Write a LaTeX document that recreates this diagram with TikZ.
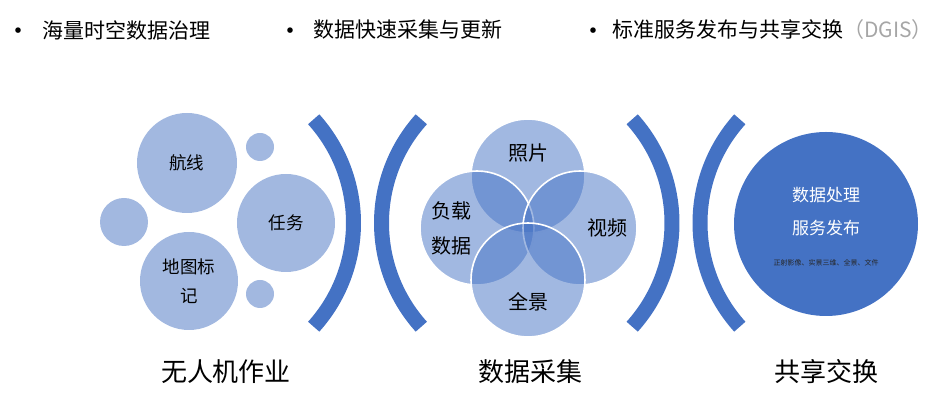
\documentclass[tikz,border=0pt]{standalone}
\usepackage{fontspec}
\setmainfont{Noto Sans CJK SC}
\usepackage{xcolor}
\usepackage{tikz}
\definecolor{pmBlue}{HTML}{4472C4}
\definecolor{pmLight}{HTML}{A2B8E0}
\definecolor{pmGray}{HTML}{A6A6A6}
\definecolor{pmInk}{HTML}{262626}
\tikzset{
  bubble/.style={
    circle, fill=pmLight,
    inner sep=0pt, minimum size=#1,
    align=center,
    font=\fontsize{8.75}{14.5}\selectfont
  },
  petal/.style={
    circle, fill=pmBlue, fill opacity=0.5,
    draw=white, draw opacity=1, line width=0.8pt,
    inner sep=0pt, minimum size=57pt
  },
  petaltext/.style={align=center, font=\fontsize{10}{17.5}\selectfont},
  hub/.style={circle, fill=pmBlue, inner sep=0pt, minimum size=92pt},
  hubtext/.style={text=white, font=\fontsize{8.5}{10}\selectfont},
  bracket/.style={pmBlue, line width=7.5pt},
  topitem/.style={anchor=west, inner sep=0pt, font=\fontsize{10.5}{12}\selectfont},
  dotmark/.style={inner sep=0pt, font=\fontsize{13}{14}\selectfont},
  stagetitle/.style={font=\fontsize{13}{15}\selectfont}
}

\begin{document}
\begin{tikzpicture}[x=0.5pt, y=0.5pt]
      \useasboundingbox (0,0) rectangle (944,400);
      % top line
      \node[dotmark] (d1) at (18,366) {•};
      \node[topitem] (t1) at (42,370) {海量时空数据治理};
      \node[dotmark] (d2) at (290,366) {•};
      \node[topitem] (t2) at (313,370) {数据快速采集与更新};
      \node[dotmark] (d3) at (593,366) {•};
      \node[topitem] (t3) at (612,370) {标准服务发布与共享交换\textcolor{pmGray}{（DGIS）}};
      % uav work
      \node[bubble=50pt] (route) at (187,237) {航线};
      \node[bubble=14pt] (dotA) at (260,253) {};
      \node[bubble=24pt] (dotB) at (124,178) {};
      \node[bubble=49pt] (task) at (286,177) {任务};
      \node[bubble=49pt] (mark) at (189,119) {地图标\\记};
      \node[bubble=14pt] (dotC) at (260,106) {};
      % brackets
      \coordinate (b1) at (198.5,177);
      \coordinate (b2) at (536.5,177);
      \coordinate (b3) at (517,177);
      \coordinate (b4) at (855,177);
      \draw[bracket] ([shift={(-42:77.5pt)}]b1) arc[start angle=-42, end angle=42, radius=77.5pt];
      \draw[bracket] ([shift={(138:77.5pt)}]b2) arc[start angle=138, end angle=222, radius=77.5pt];
      \draw[bracket] ([shift={(-42:77.5pt)}]b3) arc[start angle=-42, end angle=42, radius=77.5pt];
      \draw[bracket] ([shift={(138:77.5pt)}]b4) arc[start angle=138, end angle=222, radius=77.5pt];
      % data capture
      \node[petal] (photo) at (528,224) {};
      \node[petal] (payload) at (477,172) {};
      \node[petal] (video) at (580,172) {};
      \node[petal] (pano) at (528,120) {};
      \node[petaltext] at (528,247) {照片};
      \node[petaltext] at (451,172) {负载\\数据};
      \node[petaltext] at (607,172) {视频};
      \node[petaltext] at (528,98) {全景};
      % sharing
      \node[hub] (share) at (826,176) {};
      \node[hubtext] (proc) at (826,205) {数据处理};
      \node[hubtext] (pub) at (826,172) {服务发布};
      \node[text=pmInk, font=\fontsize{3.5}{4}\selectfont] (kinds) at (826,137) {正射影像、实景三维、全景、文件};
      % stage titles
      \node[stagetitle] (s1) at (226,28) {无人机作业};
      \node[stagetitle] (s2) at (530,28) {数据采集};
      \node[stagetitle] (s3) at (826,28) {共享交换};
    \end{tikzpicture}
\end{document}
